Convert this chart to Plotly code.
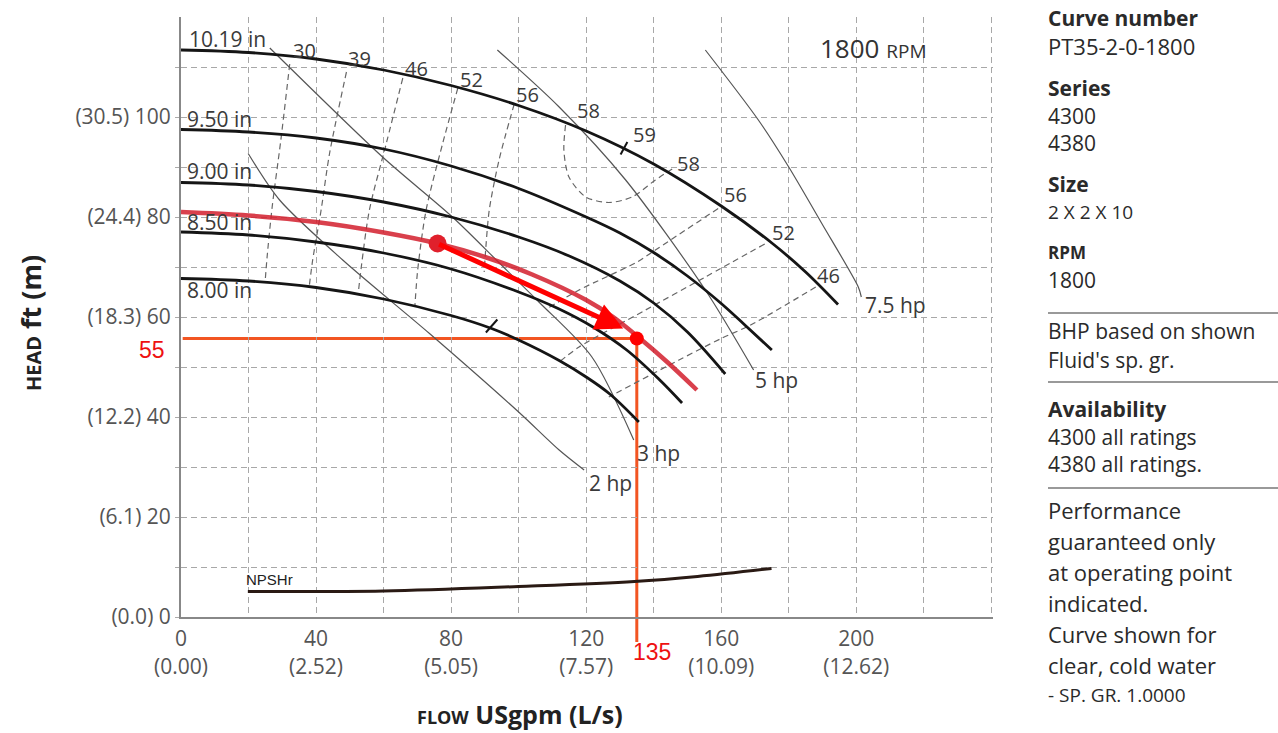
import plotly.graph_objects as go

# ---------------- data ----------------
X_MAX = 240.5
Y_MAX = 120

flow_ticks = [0, 40, 80, 120, 160, 200]
flow_ls = ["0.00", "2.52", "5.05", "7.57", "10.09", "12.62"]
head_ticks = [0, 20, 40, 60, 80, 100]
head_m = ["0.0", "6.1", "12.2", "18.3", "24.4", "30.5"]

# impeller head curves (flow USgpm, head ft)
d1019_q = [0, 20, 40, 60, 80, 100, 120, 140, 160, 175, 185, 194.6]
d1019_h = [113.4, 112.9, 111.6, 109.4, 106.3, 102.3, 97.2, 90.6, 82.2, 74.8, 69.0, 62.5]
d950_q = [0, 20, 40, 60, 80, 100, 120, 130, 140, 150, 160, 167, 175]
d950_h = [97.5, 97.0, 95.8, 93.6, 90.2, 85.7, 80.0, 76.8, 72.9, 68.2, 62.7, 58.4, 53.4]
d900_q = [0, 20, 40, 60, 80, 100, 115, 130, 140, 150, 161.2]
d900_h = [86.9, 86.4, 85.1, 83.0, 80.0, 76.0, 72.2, 67.2, 62.8, 57.0, 48.6]
d850_q = [0, 20, 40, 60, 80, 100, 112, 122, 132, 141.5, 148.4]
d850_h = [77, 76.4, 75.0, 72.8, 69.6, 65.0, 61.6, 58.0, 53.4, 47.6, 42.8]
d800_q = [0, 20, 40, 60, 80, 92, 100, 112, 120, 127, 135.6]
d800_h = [67.7, 67.2, 65.9, 63.6, 60.3, 57.7, 55.4, 51.3, 48.0, 44.6, 39.0]

# selected (trimmed) impeller curve, red
sel_q = [0, 20, 40, 60, 76, 90, 104, 120, 128, 135.6, 144, 152.8]
sel_h = [81, 80.3, 79.0, 76.9, 74.7, 72.0, 68.5, 63.4, 60.0, 55.9, 51.0, 45.4]

# efficiency contours (%)
e30_q = [32.2, 29.5, 27, 25.5, 25]
e30_h = [110.6, 95, 82, 72, 67.8]
e39_q = [49, 44, 41.5, 39, 38]
e39_h = [109, 92.7, 81.4, 71.4, 66.2]
e46_q = [65.7, 60.8, 55.8, 53.4, 52.5]
e46_h = [107.8, 94.7, 81.4, 70, 64.8]
e52_q = [82, 77.5, 72.6, 70.1, 69.3]
e52_h = [105.8, 94.7, 81.4, 69.4, 62.4]
e56a_q = [98.7, 94.2, 91.3, 90.3, 89.8]
e56a_h = [102.6, 91.4, 81.4, 74, 69]
e58_q = [113.9, 113.4, 114.9, 119.9, 126.7, 133.6, 140.5, 146.4]
e58_h = [98.4, 93.4, 88, 84, 82.9, 84, 87.4, 90]
e56b_q = [159.1, 140.5, 135.1, 117.9, 109]
e56b_h = [81.7, 73.4, 71, 65.4, 61.9]
e52b_q = [172.9, 155.3, 137.6, 117.9, 112]
e52b_h = [74.6, 68, 61.4, 54, 51.0]
e46b_q = [188, 169, 160, 147.5, 126.7]
e46b_h = [66, 58.5, 55.7, 51.4, 44.0]

# brake horsepower lines
hp2_q = [19.9, 29.2, 47.9, 73.6, 100, 112, 119.4]
hp2_h = [92.7, 83.4, 71.4, 56.7, 41, 33.4, 29.4]
hp3_q = [26.3, 59.7, 80.4, 94, 106, 121.7, 134.1]
hp3_h = [113.8, 92, 80, 71, 63, 52, 35.4]
hp5_q = [93.7, 112, 131.7, 155.3, 169.6]
hp5_h = [113.4, 102, 87.4, 65.4, 49.4]
hp75_q = [155.3, 171, 180, 189.8, 200.6, 201.5]
hp75_h = [113.4, 99.4, 90, 78.7, 66, 64]

# NPSHr
npsh_q = [19.8, 60, 100, 134.3, 153, 174.9]
npsh_h = [5.1, 5.2, 6.1, 7.1, 8.1, 9.7]

# best-efficiency hatch marks
bep1_q = [90.3, 93.7]
bep1_h = [56.9, 59.5]
bep2_q = [130.2, 132.2]
bep2_h = [92.5, 95.0]

# operating point
op_q = 135
op_h = 55.7
op_label_q = "135"
op_label_h = "55"
start_q = 76
start_h = 74.7
arrow_tip_q = 131
arrow_tip_h = 57.7

dia_labels = [("10.19 in", 1.8, 115.6), ("9.50 in", 1.2, 99.6), ("9.00 in", 1.2, 89.2),
              ("8.50 in", 1.2, 79.0), ("8.00 in", 1.2, 65.4)]
eff_labels = [("30", 36.6, 113.4), ("39", 52.9, 111.8), ("46", 69.7, 109.8), ("52", 86, 107.6),
              ("56", 102.5, 104.6), ("58", 120.8, 101.4), ("59", 137.4, 96.6), ("58", 150.4, 90.8),
              ("56", 164.3, 84.6), ("52", 178.4, 77), ("46", 191.7, 68.4)]
hp_labels = [("7.5 hp", 211.5, 62.4), ("5 hp", 176.4, 47.4), ("3 hp", 141.5, 32.8), ("2 hp", 127.3, 26.8)]

panel = [
    ("<b>Curve number</b>", 18, 21),
    ("PT35-2-0-1800", 46, 22),
    ("<b>Series</b>", 88, 21),
    ("4300", 116, 21),
    ("4380", 143, 21),
    ("<b>Size</b>", 184, 21),
    ("2 X 2 X 10", 212, 19),
    ("<b>RPM</b>", 252, 17),
    ("1800", 280, 21),
    ("BHP based on shown", 331, 21),
    ("Fluid's sp. gr.", 360, 21),
    ("<b>Availability</b>", 409, 21),
    ("4300 all ratings", 437, 21),
    ("4380 all ratings.", 464, 21),
    ("Performance", 510, 22),
    ("guaranteed only", 541, 22),
    ("at operating point", 572, 22),
    ("indicated.", 603, 22),
    ("Curve shown for", 634, 22),
    ("clear, cold water", 665, 22),
    ("- SP. GR. 1.0000", 695, 19),
]
panel_rules = [313, 382, 488]

# ---------------- figure ----------------
W, H = 1278, 733
ML, MR, MT, MB = 181, 285, 17, 116
PW, PH = W - ML - MR, H - MT - MB

def px_x(p):
    return (p - ML) / PW

def px_y(p):
    return (H - MB - p) / PH

FONT = "Open Sans"
TXT = "#3a3a3a"
fig = go.Figure()

def line(q, h, color, width, dash=None, shape="spline", smoothing=1.0):
    fig.add_trace(go.Scatter(x=q, y=h, mode="lines", hoverinfo="skip",
                             line=dict(color=color, width=width, dash=dash, shape=shape, smoothing=smoothing)))

DASH = "6px,4px"
for q, h in [(e30_q, e30_h), (e39_q, e39_h), (e46_q, e46_h), (e52_q, e52_h), (e56a_q, e56a_h),
             (e58_q, e58_h), (e56b_q, e56b_h), (e52b_q, e52b_h), (e46b_q, e46b_h)]:
    line(q, h, "#666666", 1.2, dash=DASH, smoothing=0.8)

for q, h in [(hp2_q, hp2_h), (hp3_q, hp3_h), (hp5_q, hp5_h), (hp75_q, hp75_h)]:
    line(q, h, "#555555", 1.2, smoothing=0.8)

for q, h in [(d1019_q, d1019_h), (d950_q, d950_h), (d900_q, d900_h), (d850_q, d850_h), (d800_q, d800_h)]:
    line(q, h, "#151515", 2.8)

line(bep1_q, bep1_h, "#151515", 2, shape="linear")
line(bep2_q, bep2_h, "#151515", 2, shape="linear")
line(npsh_q, npsh_h, "#2a1a14", 3)

line(sel_q, sel_h, "rgba(210,30,45,0.85)", 4.5)

fig.add_trace(go.Scatter(x=[start_q], y=[start_h], mode="markers", hoverinfo="skip",
                         marker=dict(size=18, color="#e0202c")))
fig.add_trace(go.Scatter(x=[op_q], y=[op_h], mode="markers", hoverinfo="skip", cliponaxis=False,
                         marker=dict(size=14, color="#ff0000")))

ORANGE = "#f25522"
shapes = [
    dict(type="line", xref="x", yref="y", x0=0.5, x1=op_q, y0=op_h, y1=op_h,
         line=dict(color=ORANGE, width=3), layer="below"),
    dict(type="line", xref="x", yref="paper", x0=op_q, x1=op_q, y0=px_y(642), y1=op_h / Y_MAX,
         line=dict(color=ORANGE, width=3), layer="below"),
]
for r in panel_rules:
    shapes.append(dict(type="line", xref="paper", yref="paper", x0=px_x(1048), x1=px_x(1278),
                       y0=px_y(r), y1=px_y(r), line=dict(color="#999999", width=2)))

ann = []
for t, x, y in dia_labels:
    ann.append(dict(x=x, y=y, text=t, showarrow=False, xanchor="left", yanchor="middle",
                    font=dict(family=FONT, size=21, color=TXT)))
for t, x, y in eff_labels:
    ann.append(dict(x=x, y=y, text=t, showarrow=False, xanchor="center", yanchor="middle",
                    font=dict(family=FONT, size=20, color=TXT)))
for t, x, y in hp_labels:
    ann.append(dict(x=x, y=y, text=t, showarrow=False, xanchor="center", yanchor="middle",
                    font=dict(family=FONT, size=21, color=TXT)))
ann.append(dict(x=205, y=113.8, text="1800 <span style='font-size:19px'>RPM</span>", showarrow=False,
                xanchor="center", yanchor="middle", font=dict(family=FONT, size=26, color="#333333")))
ann.append(dict(x=26.3, y=7.6, text="NPSHr", showarrow=False, xanchor="center", yanchor="middle",
                font=dict(family="Liberation Sans Narrow, Arial", size=15, color="#222222")))
# arrow
ann.append(dict(x=arrow_tip_q, y=arrow_tip_h, ax=start_q, ay=start_h, axref="x", ayref="y",
                text="", showarrow=True, arrowhead=2, arrowsize=1.1, arrowwidth=5,
                arrowcolor="#ff0000", standoff=0, startstandoff=0))
# operating point labels
ann.append(dict(xref="paper", x=px_x(152), y=op_h, yref="y", text=op_label_h, showarrow=False,
                xanchor="center", yanchor="middle", yshift=-11,
                font=dict(family="Liberation Sans", size=23, color="#ee1111")))
ann.append(dict(x=op_q, xref="x", yref="paper", y=px_y(652), text=op_label_q, showarrow=False,
                xanchor="left", yanchor="middle", xshift=-6,
                font=dict(family="Liberation Sans", size=23, color="#ee1111")))
# axis titles
ann.append(dict(xref="paper", yref="paper", x=px_x(30), y=px_y(323), textangle=-90,
                text="<b><span style='font-size:20px'>HEAD</span> ft (m)</b>", showarrow=False,
                xanchor="center", yanchor="middle", font=dict(family=FONT, size=27, color="#222222")))
ann.append(dict(xref="paper", yref="paper", x=px_x(520), y=px_y(714),
                text="<b><span style='font-size:18px'>FLOW</span> USgpm (L/s)</b>", showarrow=False,
                xanchor="center", yanchor="middle", font=dict(family=FONT, size=25, color="#222222")))
# right panel
for t, py, fs in panel:
    ann.append(dict(xref="paper", yref="paper", x=px_x(1046), y=px_y(py), text=t, showarrow=False,
                    xanchor="left", yanchor="middle", font=dict(family=FONT, size=fs, color="#2a2a2a")))

x_tickvals = list(range(0, 241, 20))
x_ticktext = []
for v in x_tickvals:
    if v in flow_ticks:
        i = flow_ticks.index(v)
        x_ticktext.append(f"{v}<br>({flow_ls[i]})")
    else:
        x_ticktext.append("")
y_tickvals = list(range(0, 111, 10))
y_ticktext = []
for v in y_tickvals:
    if v in head_ticks:
        i = head_ticks.index(v)
        y_ticktext.append(f"({head_m[i]}) {v}")
    else:
        y_ticktext.append("")

GRID = "#a8a8a8"
fig.update_layout(
    width=W, height=H, margin=dict(l=ML, r=MR, t=MT, b=MB),
    paper_bgcolor="white", plot_bgcolor="white", showlegend=False,
    shapes=shapes, annotations=ann,
    xaxis=dict(range=[0, X_MAX], tickvals=x_tickvals, ticktext=x_ticktext, showgrid=True,
               gridcolor=GRID, griddash=DASH, gridwidth=1.2, zeroline=False, showline=True,
               linecolor="#888888", linewidth=2, ticks="", ticklabelstandoff=2,
               tickfont=dict(family=FONT, size=21, color="#555555")),
    yaxis=dict(range=[0, Y_MAX], tickvals=y_tickvals, ticktext=y_ticktext, showgrid=True,
               gridcolor=GRID, griddash=DASH, gridwidth=1.2, zeroline=False, showline=True,
               linecolor="#888888", linewidth=2, ticks="outside", ticklen=4, tickcolor="#aaaaaa",
               tickfont=dict(family=FONT, size=21, color="#555555")),
)

fig.write_html("out.html")
